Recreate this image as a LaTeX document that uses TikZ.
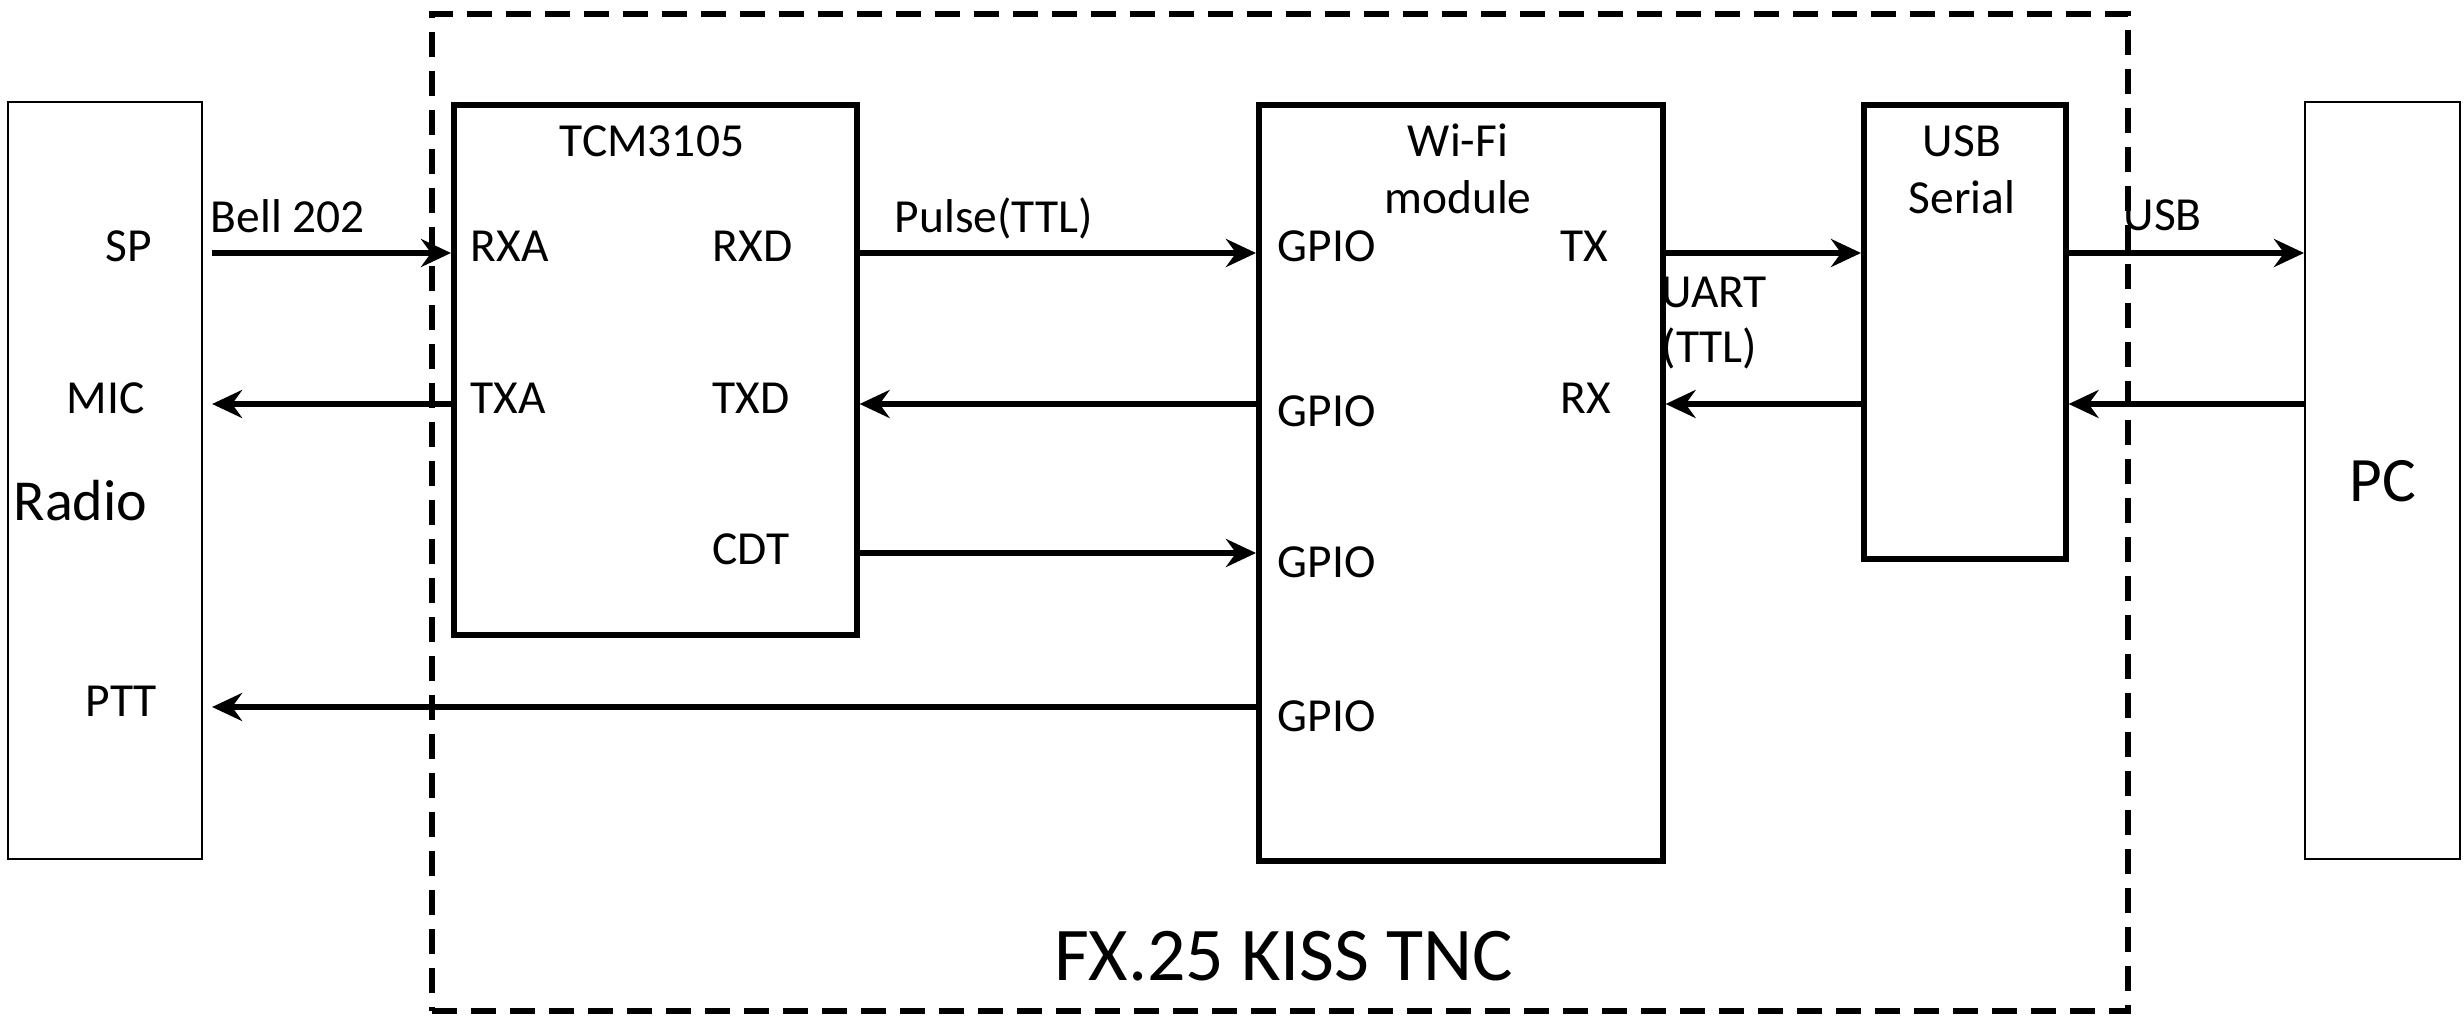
\documentclass[tikz,border=0pt]{standalone}
\usepackage{fontspec}
\setmainfont{Carlito}
\usetikzlibrary{arrows.meta}

\begin{document}
\begin{tikzpicture}[block/.style={draw,line width=1.6pt,inner sep=0pt,anchor=north west},ext/.style={draw,line width=0.6pt,inner sep=0pt,anchor=north west},pin/.style={font=\fontsize{13.5}{16}\selectfont,inner sep=0pt,anchor=base west},title/.style={font=\fontsize{13.5}{16}\selectfont,inner sep=0pt,anchor=base},arrow/.style={-{Stealth[length=3mm,width=2.8mm,inset=1mm]},line width=1.6pt}]
\useasboundingbox (0,0) rectangle (24.64,-10.16);
\node[draw,line width=1.6pt,dash pattern=on 0.25cm off 0.14cm,inner sep=0pt,anchor=north west,minimum width=16.96cm,minimum height=9.97cm] (tnc) at (4.29,-0.11) {};
\node[ext,minimum width=1.94cm,minimum height=7.57cm] (radio) at (0.07,-1.01) {};
\node[block,minimum width=4.03cm,minimum height=5.30cm] (tcm) at (4.51,-1.02) {};
\node[block,minimum width=4.04cm,minimum height=7.56cm] (wifi) at (12.56,-1.02) {};
\node[block,minimum width=2.02cm,minimum height=4.54cm] (usb) at (18.61,-1.02) {};
\node[ext,minimum width=1.55cm,minimum height=7.57cm] (pc) at (23.04,-1.01) {};
\coordinate (r1) at (0,-2.53);
\coordinate (r2) at (0,-4.04);
\coordinate (r3) at (0,-5.53);
\coordinate (r4) at (0,-7.07);
% texts
\node[font=\fontsize{16.5}{19}\selectfont,inner sep=0pt,anchor=base west] (lradio) at (0.13,-5.20) {Radio};
\node[font=\fontsize{18}{21}\selectfont,inner sep=0pt,anchor=base] (lpc) at (23.83,-5.01) {PC};
\node[font=\fontsize{21.6}{25}\selectfont,inner sep=0pt,anchor=base] (ltnc) at (12.84,-9.80) {FX.25 KISS TNC};
\node[pin] (lsp) at (1.05,-2.62) {SP};
\node[pin] (lmic) at (0.66,-4.13) {MIC};
\node[pin] (lptt) at (0.85,-7.16) {PTT};
\node[title] (ltcm) at (6.52,-1.56) {TCM3105};
\node[pin] (lrxa) at (4.70,-2.62) {RXA};
\node[pin] (ltxa) at (4.70,-4.13) {TXA};
\node[pin] (lrxd) at (7.12,-2.62) {RXD};
\node[pin] (ltxd) at (7.12,-4.13) {TXD};
\node[pin] (lcdt) at (7.12,-5.64) {CDT};
\node[title] (lwifi) at (14.58,-1.56) {Wi-Fi};
\node[title] (lmodule) at (14.58,-2.13) {module};
\node[pin] (lgpio1) at (12.77,-2.62) {GPIO};
\node[pin] (lgpio2) at (12.77,-4.26) {GPIO};
\node[pin] (lgpio3) at (12.77,-5.77) {GPIO};
\node[pin] (lgpio4) at (12.77,-7.31) {GPIO};
\node[pin] (ltx) at (15.60,-2.62) {TX};
\node[pin] (lrx) at (15.60,-4.13) {RX};
\node[title] (lusb) at (19.62,-1.56) {USB};
\node[title] (lserial) at (19.62,-2.13) {Serial};
\node[pin] (lbell) at (2.10,-2.32) {Bell 202};
\node[pin] (lpulse) at (8.94,-2.32) {Pulse(TTL)};
\node[pin] (luart) at (16.61,-3.07) {UART};
\node[pin] (lttl) at (16.61,-3.62) {(TTL)};
\node[pin] (lusbline) at (21.23,-2.30) {USB};
% links
\draw[arrow,shorten <=0.09cm] (radio.east |- r1) -- (tcm.west |- r1);
\draw[arrow,shorten >=0.09cm] (tcm.west |- r2) -- (radio.east |- r2);
\draw[arrow] (tcm.east |- r1) -- (wifi.west |- r1);
\draw[arrow] (wifi.west |- r2) -- (tcm.east |- r2);
\draw[arrow] (tcm.east |- r3) -- (wifi.west |- r3);
\draw[arrow,shorten >=0.09cm] (wifi.west |- r4) -- (radio.east |- r4);
\draw[arrow] (wifi.east |- r1) -- (usb.west |- r1);
\draw[arrow] (usb.west |- r2) -- (wifi.east |- r2);
\draw[arrow] (usb.east |- r1) -- (pc.west |- r1);
\draw[arrow] (pc.west |- r2) -- (usb.east |- r2);
\end{tikzpicture}
\end{document}
